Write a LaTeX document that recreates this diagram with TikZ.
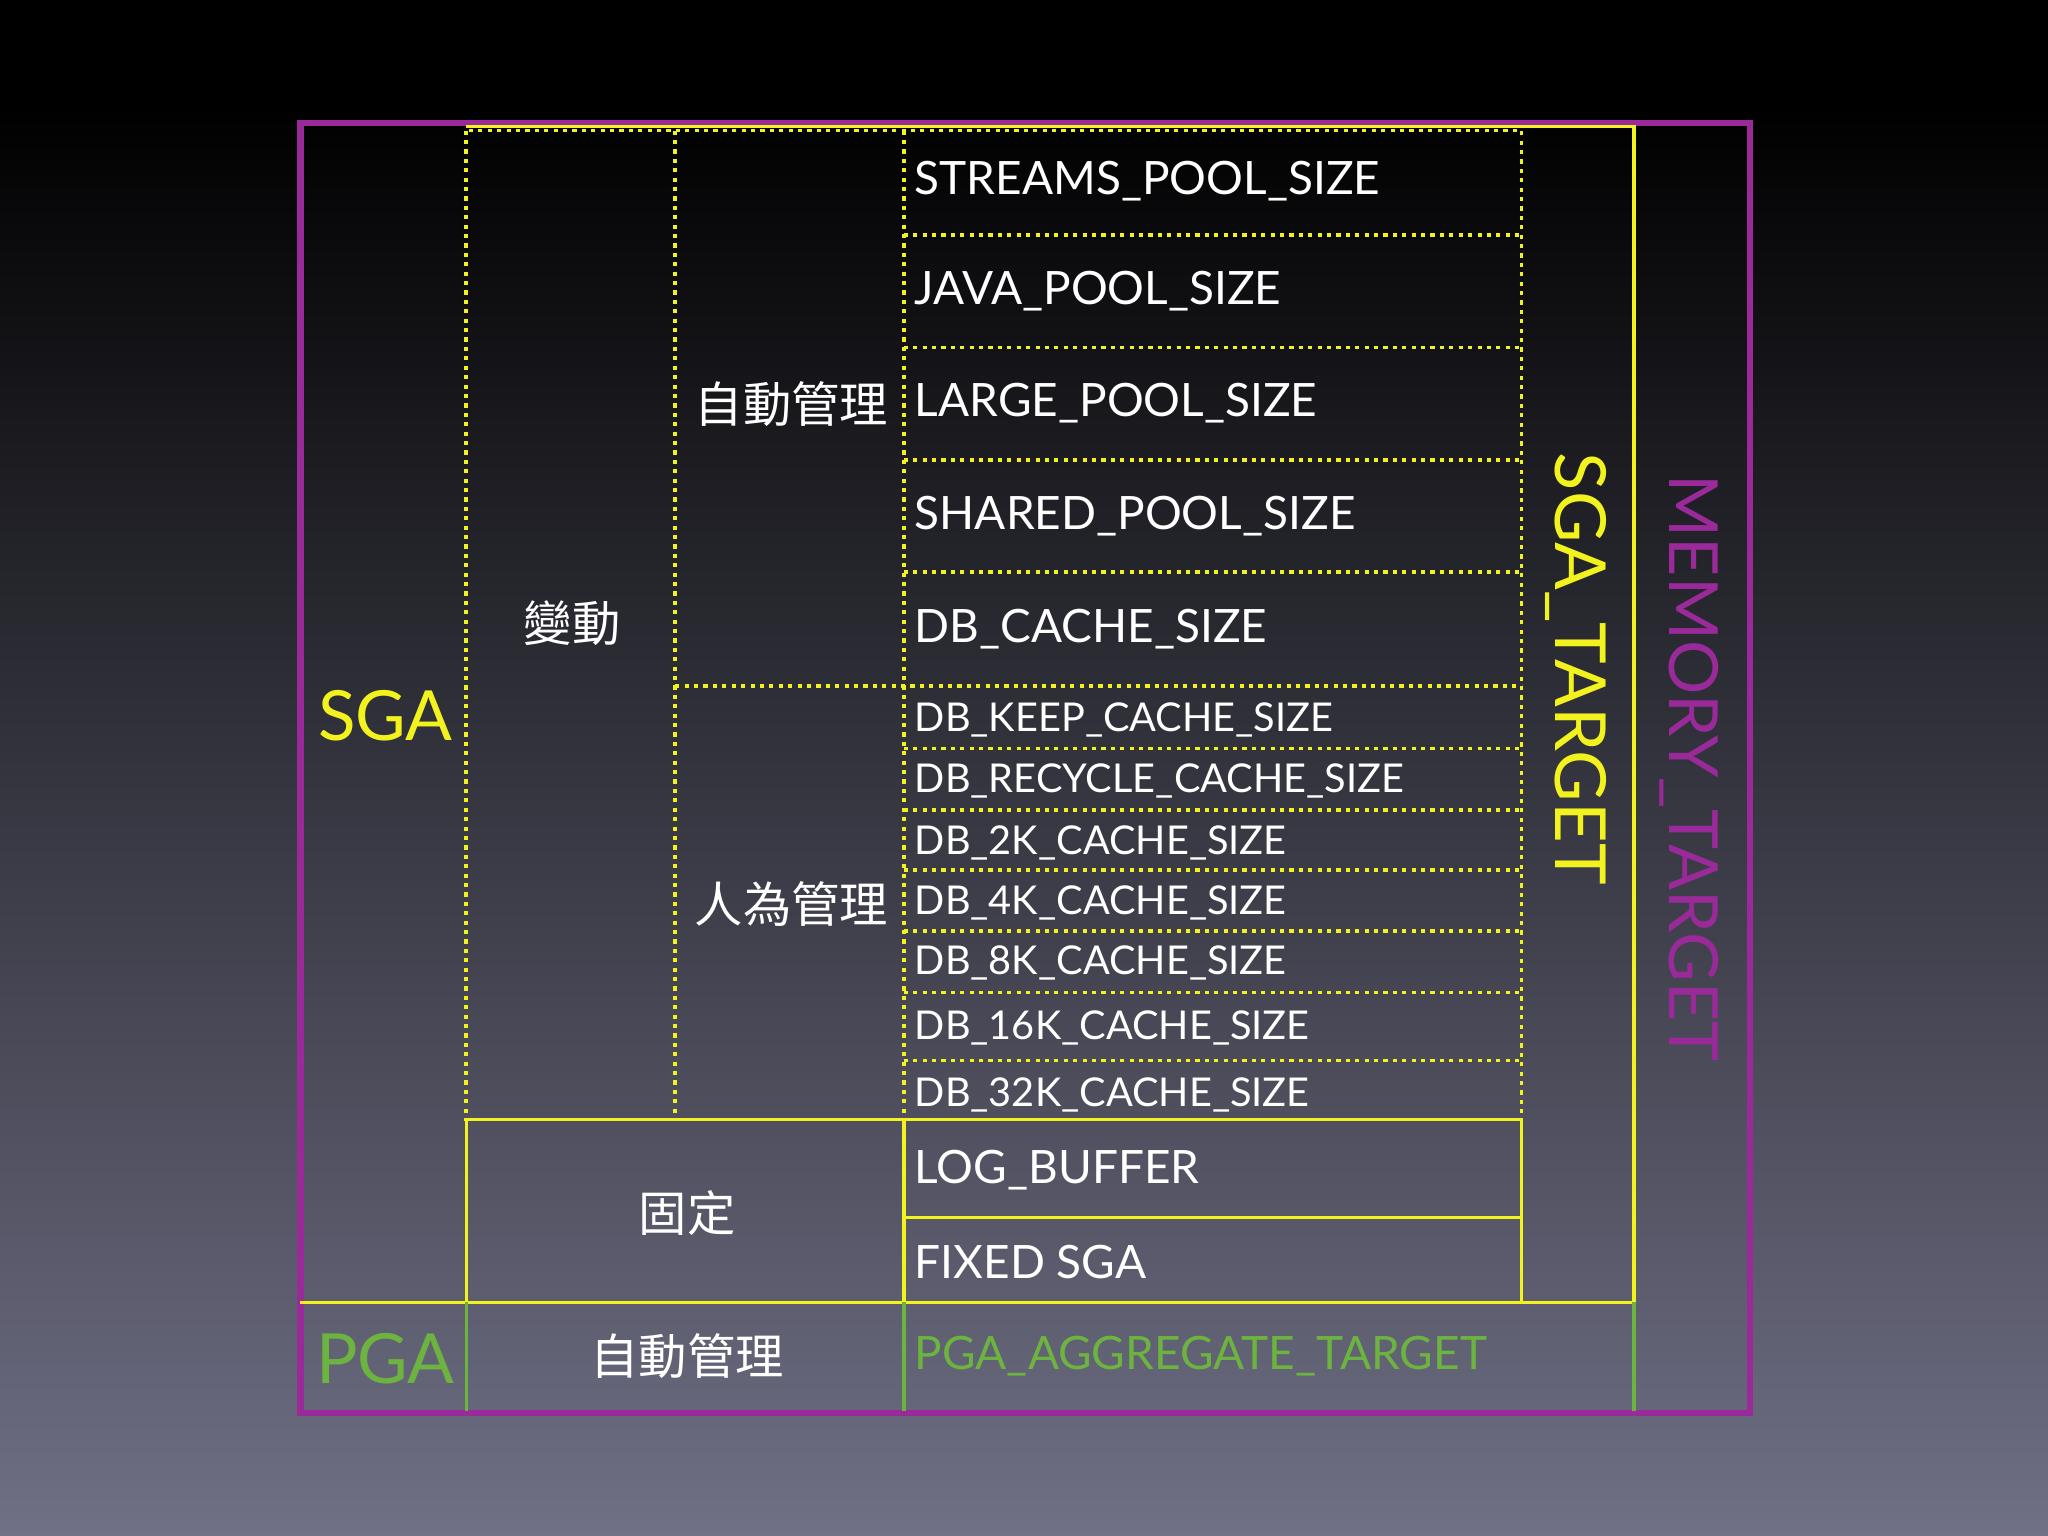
\documentclass[tikz,border=0pt]{standalone}
\usepackage{fontspec}
\setmainfont{Lato}
\newfontfamily\cjk{Noto Sans CJK TC}
\begin{document}
\begin{tikzpicture}[x=0.5pt,y=-0.5pt,
  yel/.style={draw=Y,line width=1.3pt},
  dot/.style={draw=Y,line width=1.4pt,dash pattern=on 1.6pt off 2pt},
  grn/.style={draw=G,line width=1.3pt},
  lab/.style={text=white,font=\fontsize{17.6}{20}\selectfont,anchor=west,inner sep=0pt},
  slab/.style={text=white,font=\fontsize{15.2}{17}\selectfont,anchor=west,inner sep=0pt},
  cj/.style={text=white,font=\cjk\fontsize{18.5}{20}\selectfont,inner sep=0pt}]
\definecolor{Y}{HTML}{F2F21E}
\definecolor{G}{HTML}{6DB33F}
\definecolor{P}{HTML}{9A2A9A}
\definecolor{BG}{RGB}{112,112,134}
\fill[black] (0,0) rectangle (1568,80);
\shade[top color=black,bottom color=BG] (0,79) rectangle (1568,1176);
\useasboundingbox (0,0) rectangle (1568,1176);
% outer purple
\draw[draw=P,line width=2.4pt] (230,94) rectangle (1340,1082);
% dotted variable region
\draw[dot] (357,100) rectangle (1165,857);
\draw[dot] (517,100) -- (517,857);
\draw[dot] (692,100) -- (692,857);
\draw[dot] (517,525) -- (1165,525);
\foreach \yy in {180,266,352,438,573,620,666,713,760,812}
  \draw[dot] (692,\yy) -- (1165,\yy);
% fixed
\draw[yel] (357,857) rectangle (1165,997);
\draw[yel] (692,857) -- (692,997);
\draw[yel] (692,932) -- (1165,932);
% SGA target
\draw[yel] (357,97) -- (1251,97) -- (1251,997);
\draw[yel] (230,997) -- (1251,997);
% PGA row
\draw[grn] (357,997) -- (357,1080);
\draw[grn] (692,997) -- (692,1080);
\draw[grn] (1251,997) -- (1251,1080);
% labels
\node[lab] at (700,139) {STREAMS\_POOL\_SIZE};
\node[lab] at (700,223) {JAVA\_POOL\_SIZE};
\node[lab] at (700,309) {LARGE\_POOL\_SIZE};
\node[lab] at (700,395) {SHARED\_POOL\_SIZE};
\node[lab] at (700,482) {DB\_CACHE\_SIZE};
\node[slab] at (700,551) {DB\_KEEP\_CACHE\_SIZE};
\node[slab] at (700,598) {DB\_RECYCLE\_CACHE\_SIZE};
\node[slab] at (700,645) {DB\_2K\_CACHE\_SIZE};
\node[slab] at (700,691) {DB\_4K\_CACHE\_SIZE};
\node[slab] at (700,737) {DB\_8K\_CACHE\_SIZE};
\node[slab] at (700,787) {DB\_16K\_CACHE\_SIZE};
\node[slab] at (700,838) {DB\_32K\_CACHE\_SIZE};
\node[lab] at (700,896) {LOG\_BUFFER};
\node[lab] at (700,966) {FIXED SGA};
\node[lab,text=G] at (700,1038) {PGA\_AGGREGATE\_TARGET};
\node[cj] at (606,309) {自動管理};
\node[cj] at (606,692) {人為管理};
\node[cj] at (438,477) {變動};
\node[cj] at (526,929) {固定};
\node[cj] at (526,1038) {自動管理};
\node[text=Y,font=\fontsize{26.5}{30}\selectfont,inner sep=0pt] at (295,548) {SGA};
\node[text=G,font=\fontsize{26.5}{30}\selectfont,inner sep=0pt] at (295,1040) {PGA};
\node[text=Y,font=\fontsize{27}{30}\selectfont,inner sep=0pt,rotate=-90] at (1207,512) {SGA\_TARGET};
\node[text=P,font=\fontsize{26}{30}\selectfont,inner sep=0pt,rotate=-90] at (1293,588) {MEMORY\_TARGET};
\end{tikzpicture}
\end{document}
